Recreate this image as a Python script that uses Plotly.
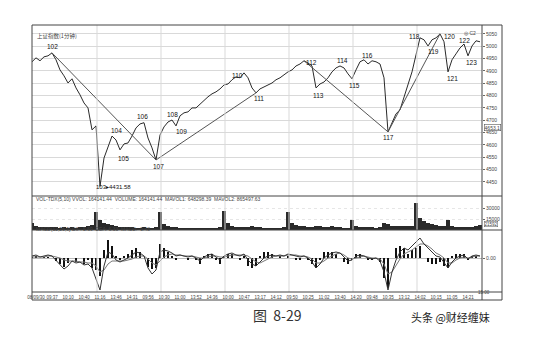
import plotly.graph_objects as go

# ---------------- data ----------------
price = [4937, 4953, 4941, 4957, 4961, 4973, 4945, 4904, 4880, 4851,
         4868, 4831, 4803, 4770, 4750, 4661, 4677, 4432, 4547, 4588,
         4636, 4620, 4580, 4604, 4608, 4636, 4669, 4685, 4690, 4628,
         4588, 4539, 4640, 4673, 4693, 4701, 4677, 4718, 4730, 4734,
         4750, 4750, 4766, 4778, 4795, 4807, 4815, 4827, 4843, 4847,
         4864, 4876, 4872, 4892, 4872, 4831, 4811, 4827, 4835, 4843,
         4851, 4864, 4872, 4884, 4896, 4904, 4920, 4928, 4941, 4932,
         4920, 4831, 4847, 4855, 4872, 4896, 4912, 4920, 4912, 4888,
         4868, 4904, 4937, 4945, 4928, 4941, 4937, 4928, 4872, 4653,
         4693, 4726, 4742, 4795, 4839, 4896, 4965, 5034, 5026, 5001,
         5026, 5034, 5050, 5018, 4896, 4945, 4969, 4993, 5009, 4961,
         5001, 5022, 5018]

volume = [9000, 6000, 4500, 4000, 3500, 4000, 3500, 3000, 3500, 3000,
          3500, 3000, 4000, 4500, 6000, 7000, 24000, 13000, 10000, 8000,
          7000, 5000, 4500, 4000, 3500, 3500, 3000, 3000, 3500, 3000,
          3000, 3500, 24000, 8000, 5000, 4000, 3500, 3000, 3000, 2500,
          3000, 2500, 2500, 3000, 2500, 3000, 3000, 3500, 26000, 9000,
          6000, 4500, 4000, 4000, 4500, 5000, 4500, 3500, 3000, 3000,
          2500, 3000, 3000, 3500, 24000, 10000, 7000, 5500, 5000, 4500,
          4000, 6000, 5000, 4500, 4000, 5500, 4000, 3500, 3000, 3000,
          14000, 6000, 4500, 4000, 3500, 3500, 3000, 3500, 10000, 8000,
          6000, 5500, 5000, 5000, 5500, 6000, 37000, 16000, 12000, 9000,
          8000, 7000, 6000, 5500, 14000, 6000, 4500, 4000, 3500, 4000,
          4500, 5500, 7000]

dif = [2, 3, 1, 2, 3, 2, -2, -6, -11, -8,
       -3, -5, -4, -7, -6, -10, -20, -32, -8, 6,
       4, -2, -4, -2, 0, 3, 6, 5, 2, -10,
       -16, -12, 6, 8, 7, 5, 2, 3, 2, 1,
       2, 0, -3, 1, 3, 4, 1, -2, 2, 4,
       5, 3, 2, 4, -2, -6, -8, -4, 0, 2,
       3, 2, 3, 2, 4, 3, 2, 1, 2, 0,
       -4, -10, -6, 0, 3, 5, 6, 5, 1, -3,
       -2, 2, 3, 2, 0, -1, 0, -3, -14, -32,
       -14, -2, 6, 10, 8, 12, 16, 20, 14, 10,
       6, 2, 1, -4, -10, -4, 0, 2, 3, -1,
       2, 3, 2]

dea = [1, 1, 1, 1, 2, 2, 1, 0, -2, -3,
       -3, -3, -4, -4, -5, -5, -8, -14, -12, -6,
       -3, -3, -3, -3, -2, -1, 1, 2, 2, -1,
       -5, -7, -3, 1, 3, 4, 3, 3, 2, 2,
       2, 1, 0, 0, 1, 2, 2, 1, 1, 2,
       3, 3, 3, 3, 2, -1, -4, -5, -3, -1,
       1, 2, 2, 2, 3, 3, 3, 2, 2, 1,
       -1, -5, -5, -3, 0, 2, 4, 5, 3, 0,
       -1, 0, 1, 2, 1, 0, 0, -1, -6, -16,
       -14, -7, -1, 4, 6, 8, 11, 14, 14, 12,
       9, 5, 3, 0, -5, -5, -2, 0, 1, 0,
       1, 2, 2]

macd_hist = [1, 2, 0, 1, 1, 0, -3, -6, -9, -5,
             0, -4, 0, -6, -2, -10, -12, -18, 8, 18,
             12, 2, -2, 2, 4, 8, 10, 6, 0, -9,
             -11, -10, 14, 10, 6, 2, -2, 0, 0, -2,
             0, -2, -6, 2, 4, 4, -2, -6, 2, 4,
             4, 0, -2, 2, -8, -10, -8, 2, 6, 6,
             4, 0, 2, 0, 2, 0, -2, -2, 0, -2,
             -6, -10, -2, 6, 6, 6, 4, 0, -4, -6,
             -2, 4, 4, 0, -2, -2, 0, -4, -20, -30,
             0, 10, 12, 10, 4, 8, 10, 12, 0, -4,
             -6, -6, -4, -8, -10, 2, 4, 4, 4, -2,
             2, 2, 0]

# pivot labels: (label, index into price)
pivots = [("102", 5), ("103", 17), ("104", 20), ("105", 22), ("106", 28),
          ("107", 31), ("108", 35), ("109", 36), ("110", 53), ("111", 56),
          ("112", 68), ("113", 71), ("114", 77), ("115", 80), ("116", 83),
          ("117", 89), ("118", 97), ("119", 99), ("120", 102), ("121", 104),
          ("122", 108), ("123", 109)]

# trend lines between pivots (by label)
trend_pairs = [("102", "107"), ("107", "111"), ("112", "117"), ("117", "120")]

price_ticks = [4450, 4500, 4550, 4600, 4650, 4700, 4750, 4800, 4850, 4900, 4950, 5000, 5050]
xtick_labels = ["08/09/30", "09:37", "10:10", "10:40", "11:16", "13:46", "14:31",
                "09:56", "10:30", "11:00", "13:52", "14:36", "10:00", "10:47",
                "13:17", "14:12", "09:50", "10:25", "11:02", "13:40", "14:20",
                "09:48", "10:35", "13:12", "14:02", "10:15", "11:05", "14:21"]

# ---------------- figure ----------------
idx = list(range(len(price)))
INK = "#2a2a2a"
GRID = "#d9d9d9"
FONT = "Liberation Sans"

fig = go.Figure()

fig.add_trace(go.Scatter(x=idx, y=price, mode="lines", yaxis="y",
                         line=dict(color=INK, width=1), hoverinfo="skip"))

pmap = {lab: i for lab, i in pivots}
tx, ty = [], []
for a, b in trend_pairs:
    tx += [pmap[a], pmap[b], None]
    ty += [price[pmap[a]], price[pmap[b]], None]
fig.add_trace(go.Scatter(x=tx, y=ty, mode="lines", yaxis="y",
                         line=dict(color="#555555", width=1), hoverinfo="skip"))

fig.add_trace(go.Bar(x=idx, y=volume, yaxis="y2", marker=dict(color=INK, line=dict(width=0)),
                     hoverinfo="skip"))

fig.add_trace(go.Bar(x=idx, y=macd_hist, yaxis="y3", width=0.45,
                     marker=dict(color="#111111", line=dict(width=0)), hoverinfo="skip"))
fig.add_trace(go.Scatter(x=idx, y=dea, mode="lines", yaxis="y3",
                         line=dict(color="#777777", width=1), hoverinfo="skip"))
fig.add_trace(go.Scatter(x=idx, y=dif, mode="lines", yaxis="y3",
                         line=dict(color="#333333", width=1), hoverinfo="skip"))

# label offsets (px): label -> (xshift, yshift)
offs = {"102": (0, 6), "104": (4, 6), "105": (3, -9), "106": (-2, 6),
        "107": (2, -7), "108": (0, 6), "109": (5, -6), "110": (-7, -3), "111": (3, -6),
        "112": (7, -2), "113": (2, -8), "114": (2, 5), "115": (2, -7), "116": (3, 4),
        "117": (0, -6), "118": (-6, 1), "119": (5, -6), "120": (9, -3), "121": (4, -7),
        "122": (0, 4), "123": (3, -7)}

LABEL_COLOR = "#111111"
ann = []
for lab, i in pivots:
    if lab == "103":
        ann.append(dict(x=i, y=price[i], xref="x", yref="y", text="103▸4431.58",
                        showarrow=False, xanchor="left", xshift=-6, yshift=-1,
                        font=dict(size=6, color=LABEL_COLOR, family=FONT)))
        continue
    dx, dy = offs[lab]
    ann.append(dict(x=i, y=price[i], xref="x", yref="y", text=lab, showarrow=False,
                    xshift=dx, yshift=dy, font=dict(size=6.5, color=LABEL_COLOR, family=FONT)))

def px_x(p):
    return (p - 32) / 450.0

def px_y(p):
    return (292 - p) / 267.0

small = dict(size=5, color="#444", family=FONT)
ann += [
    dict(x=px_x(35), y=px_y(30), xref="paper", yref="paper", text="上证指数(1分钟)",
         showarrow=False, xanchor="left", font=dict(size=5.5, color="#444", family="Noto Sans CJK SC")),
    dict(x=px_x(478), y=px_y(28), xref="paper", yref="paper", text="◎ C2",
         showarrow=False, xanchor="right", font=small),
    dict(x=px_x(34), y=px_y(199.5), xref="paper", yref="paper",
         text="VOL-TDX(5,10) VVOL: 164141.44  VOLUME: 164141.44  MAVOL1: 648298.39  MAVOL2: 865497.63",
         showarrow=False, xanchor="left", font=small),
    dict(x=px_x(34), y=px_y(233.5), xref="paper", yref="paper",
         text="MACD(12,26,9) DIF: 5.69  DEA: 6.33  MACD: -0.48",
         showarrow=False, xanchor="left", font=small),
    dict(x=px_x(484), y=px_y(127), xref="paper", yref="paper", text="4653.1",
         showarrow=False, xanchor="left", font=small, bordercolor="#555", borderwidth=0.6,
         borderpad=0, bgcolor="white"),
    dict(x=px_x(484), y=px_y(226.5), xref="paper", yref="paper", text="21592",
         showarrow=False, xanchor="left", font=dict(size=4.5, color="#444", family=FONT),
         bordercolor="#555", borderwidth=0.5, borderpad=0, bgcolor="white"),
    dict(x=px_x(492), y=px_y(296.5), xref="paper", yref="paper", text="15:00",
         showarrow=False, font=dict(size=4.5, color="#444", family=FONT)),
    dict(x=px_x(277), y=px_y(327), xref="paper", yref="paper", text="图  8-29",
         showarrow=False, font=dict(size=14, color="#333", family="Noto Sans CJK SC")),
    dict(x=px_x(492), y=px_y(327), xref="paper", yref="paper", text="头条 @财经缠妹",
         showarrow=False, font=dict(size=11, color="#222", family="Noto Sans CJK SC")),
]

shapes = []
# day separators
for k in range(6):
    xb = 16.25 + 16 * k
    shapes.append(dict(type="line", xref="x", yref="paper", x0=xb, x1=xb, y0=0, y1=1,
                       line=dict(color=GRID, width=1)))
# frames
frame = dict(color="#444", width=1)
shapes += [
    dict(type="rect", xref="paper", yref="paper", x0=0, x1=px_x(502), y0=px_y(300), y1=1, line=frame),
    dict(type="line", xref="paper", yref="paper", x0=1, x1=1, y0=px_y(300), y1=1, line=frame),
    dict(type="line", xref="paper", yref="paper", x0=0, x1=px_x(502), y0=px_y(196), y1=px_y(196), line=frame),
    dict(type="line", xref="paper", yref="paper", x0=0, x1=px_x(502), y0=px_y(230), y1=px_y(230), line=frame),
    dict(type="line", xref="paper", yref="paper", x0=0, x1=px_x(502), y0=0, y1=0, line=frame),
]

axis_common = dict(side="right", showline=False, zeroline=False, ticks="outside", ticklen=2,
                   tickcolor="#666", tickfont=small, fixedrange=True, tickformat="d")

fig.update_layout(
    width=551, height=351, margin=dict(l=32, r=69, t=25, b=59),
    paper_bgcolor="white", plot_bgcolor="white", showlegend=False,
    bargap=0, barmode="overlay",
    xaxis=dict(domain=[0, 1], range=[0, 112.5], anchor="y3", showgrid=False, zeroline=False,
               showline=False, tickmode="array", tickangle=0,
               tickvals=list(range(1, 112, 4)), ticktext=xtick_labels,
               tickfont=dict(size=4.5, color="#444", family=FONT), ticks="", ticklabelstandoff=1),
    yaxis=dict(domain=[px_y(196), 1], range=[4393, 5086], tickvals=price_ticks,
               showgrid=True, gridcolor=GRID, gridwidth=1, **axis_common),
    yaxis2=dict(domain=[px_y(230), px_y(196)], range=[0, 46400], tickvals=[15000, 30000],
                showgrid=True, gridcolor="#e6e6e6", griddash="dot", **axis_common),
    yaxis3=dict(domain=[0, px_y(230)], range=[-34, 28], tickvals=[0], ticktext=["0.00"],
                showgrid=True, gridcolor="#bbbbbb", **axis_common),
    annotations=ann, shapes=shapes,
)

fig.write_html("out.html")
